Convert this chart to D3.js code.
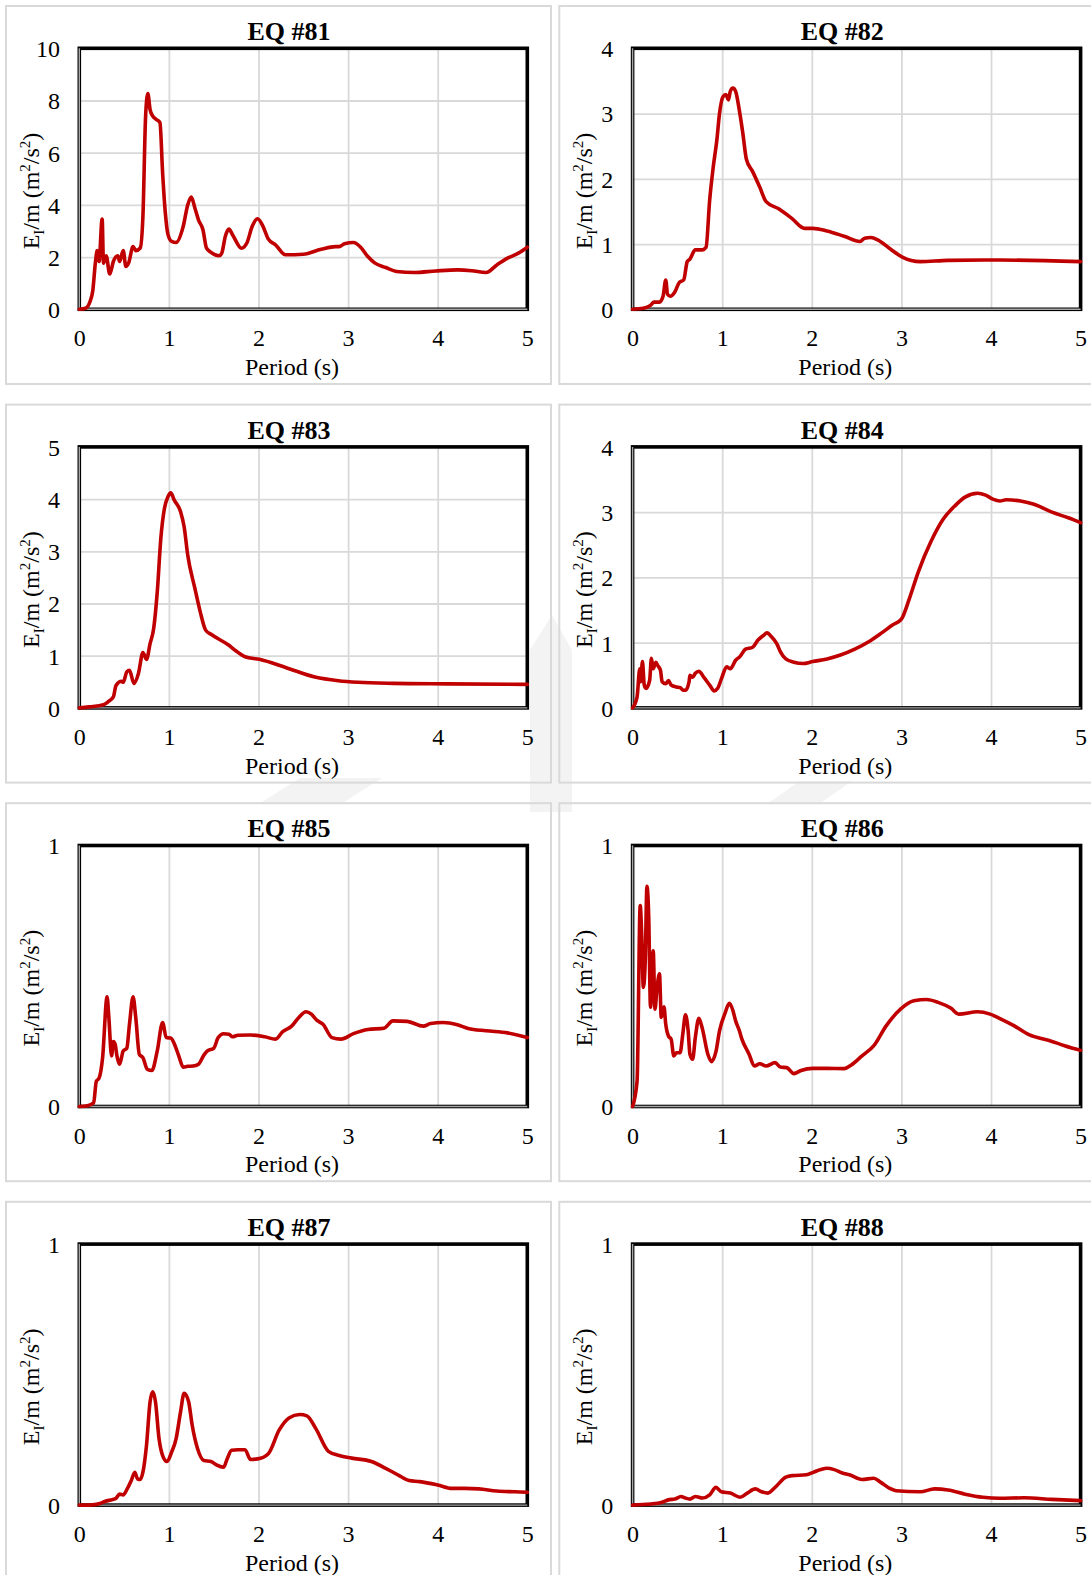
<!DOCTYPE html>
<html>
<head>
<meta charset="utf-8">
<script src="https://cdn.jsdelivr.net/npm/d3@7"></script>
<style>
  html, body { margin: 0; padding: 0; background: #ffffff; }
  svg { display: block; }
  text { font-family: "Liberation Serif", "Times New Roman", serif; fill: #000; }
</style>
</head>
<body>
<svg id="chart" width="1091" height="1575"></svg>
<script>
// Input energy spectra, E_I/m (m^2/s^2) versus period (s), one array of [T, E] pairs per record
const periodTicks = [0, 1, 2, 3, 4, 5];
const panelTitles = ["EQ #81", "EQ #82", "EQ #83", "EQ #84", "EQ #85", "EQ #86", "EQ #87", "EQ #88"];
const yMaxima = [10, 4, 5, 4, 1, 1, 1, 1];
const yTickSteps = [2, 1, 1, 1, 1, 1, 1, 1];

const eq81 = [[0,0],[0.07,0.04],[0.12,0.3],[0.15,0.7],[0.18,1.8],[0.2,2.25],[0.22,1.83],[0.255,3.46],[0.27,1.77],
  [0.3,2.05],[0.34,1.35],[0.38,1.83],[0.43,2.05],[0.45,1.83],[0.49,2.25],[0.52,1.64],[0.55,1.77],[0.6,2.4],
  [0.63,2.25],[0.68,2.35],[0.71,3.56],[0.74,7.4],[0.765,8.27],[0.79,7.65],[0.82,7.4],[0.85,7.3],[0.87,7.25],
  [0.9,7.15],[0.93,5.22],[0.96,3.7],[0.99,2.86],[1.03,2.6],[1.08,2.56],[1.16,3.18],[1.21,4.0],[1.25,4.3],
  [1.29,3.88],[1.33,3.43],[1.38,3.05],[1.42,2.34],[1.47,2.18],[1.56,2.05],[1.59,2.15],[1.63,2.8],[1.67,3.07],
  [1.71,2.86],[1.81,2.34],[1.87,2.54],[1.93,3.18],[1.99,3.47],[2.05,3.18],[2.11,2.69],[2.19,2.47],[2.3,2.09],
  [2.5,2.11],[2.7,2.3],[2.86,2.4],[2.9,2.4],[2.96,2.51],[3.06,2.56],[3.14,2.38],[3.22,2.02],[3.3,1.77],
  [3.42,1.6],[3.54,1.45],[3.74,1.41],[3.98,1.47],[4.22,1.51],[4.38,1.48],[4.54,1.41],[4.66,1.7],[4.78,1.96],
  [4.9,2.15],[5.0,2.38]];

const eq82 = [[0,0],[0.12,0.015],[0.2,0.06],[0.24,0.11],[0.3,0.11],[0.34,0.2],[0.37,0.45],[0.39,0.23],[0.42,0.2],
  [0.47,0.26],[0.52,0.41],[0.57,0.45],[0.61,0.73],[0.64,0.77],[0.7,0.91],[0.78,0.91],[0.82,0.95],[0.86,1.67],
  [0.9,2.18],[0.94,2.59],[0.97,3.0],[1.01,3.26],[1.04,3.29],[1.07,3.21],[1.09,3.34],[1.12,3.39],[1.15,3.34],
  [1.19,3.06],[1.23,2.7],[1.27,2.3],[1.34,2.11],[1.42,1.87],[1.49,1.65],[1.63,1.54],[1.78,1.39],[1.92,1.24],
  [2.01,1.24],[2.17,1.2],[2.36,1.12],[2.54,1.04],[2.59,1.09],[2.66,1.1],[2.74,1.06],[2.88,0.92],[3.01,0.8],
  [3.21,0.73],[3.52,0.75],[4.1,0.755],[5.0,0.73]];

const eq83 = [[0,0],[0.11,0.02],[0.27,0.06],[0.33,0.13],[0.38,0.21],[0.41,0.43],[0.47,0.51],[0.49,0.49],
  [0.53,0.69],[0.56,0.72],[0.61,0.47],[0.66,0.66],[0.71,1.06],[0.75,0.93],[0.79,1.23],[0.83,1.52],[0.87,2.22],
  [0.91,3.25],[0.95,3.82],[0.99,4.05],[1.02,4.12],[1.06,3.98],[1.13,3.76],[1.17,3.47],[1.21,2.93],[1.29,2.29],
  [1.35,1.84],[1.41,1.49],[1.47,1.41],[1.67,1.2],[1.75,1.09],[1.85,0.98],[2.01,0.93],[2.31,0.77],[2.63,0.59],
  [2.89,0.52],[3.11,0.49],[3.5,0.47],[4.1,0.46],[5.0,0.45]];

const eq84 = [[0,0],[0.05,0.17],[0.08,0.6],[0.09,0.4],[0.11,0.71],[0.13,0.35],[0.15,0.3],[0.19,0.42],[0.21,0.76],
  [0.23,0.6],[0.26,0.7],[0.28,0.65],[0.31,0.58],[0.33,0.4],[0.37,0.37],[0.4,0.42],[0.43,0.35],[0.49,0.32],
  [0.53,0.31],[0.57,0.27],[0.59,0.27],[0.63,0.4],[0.64,0.5],[0.67,0.47],[0.7,0.53],[0.74,0.56],[0.8,0.46],
  [0.86,0.35],[0.91,0.26],[0.95,0.3],[0.99,0.44],[1.05,0.63],[1.09,0.6],[1.15,0.73],[1.2,0.79],[1.26,0.9],
  [1.34,0.93],[1.4,1.04],[1.46,1.11],[1.5,1.15],[1.55,1.09],[1.61,0.98],[1.65,0.86],[1.71,0.75],[1.8,0.7],
  [1.9,0.68],[2.01,0.71],[2.17,0.75],[2.32,0.81],[2.48,0.9],[2.63,1.01],[2.78,1.15],[2.9,1.27],[3.0,1.36],
  [3.09,1.68],[3.19,2.09],[3.33,2.55],[3.46,2.88],[3.6,3.1],[3.71,3.23],[3.85,3.29],[3.94,3.26],[4.02,3.2],
  [4.1,3.17],[4.17,3.19],[4.33,3.17],[4.48,3.12],[4.68,3.0],[4.87,2.91],[5.0,2.84]];

const eq85 = [[0,0],[0.09,0.003],[0.16,0.014],[0.19,0.097],[0.22,0.108],[0.26,0.187],[0.31,0.42],[0.33,0.34],
  [0.36,0.194],[0.38,0.249],[0.4,0.238],[0.42,0.194],[0.45,0.162],[0.49,0.213],[0.53,0.223],[0.56,0.315],
  [0.6,0.42],[0.63,0.341],[0.67,0.2],[0.71,0.187],[0.76,0.142],[0.81,0.138],[0.87,0.213],[0.93,0.322],
  [0.97,0.264],[1.02,0.262],[1.07,0.232],[1.11,0.194],[1.16,0.151],[1.21,0.154],[1.27,0.155],[1.33,0.162],
  [1.39,0.197],[1.43,0.213],[1.5,0.223],[1.55,0.264],[1.61,0.279],[1.67,0.277],[1.71,0.267],[1.77,0.273],
  [1.91,0.274],[2.07,0.267],[2.19,0.258],[2.27,0.287],[2.37,0.308],[2.45,0.341],[2.53,0.363],[2.59,0.354],
  [2.65,0.331],[2.72,0.315],[2.82,0.264],[2.92,0.258],[3.06,0.279],[3.22,0.295],[3.4,0.3],[3.5,0.328],
  [3.66,0.326],[3.84,0.308],[3.92,0.318],[4.06,0.322],[4.22,0.313],[4.34,0.299],[4.54,0.29],[4.78,0.282],
  [5.0,0.264]];

const eq86 = [[0,0],[0.05,0.097],[0.085,0.77],[0.1,0.675],[0.12,0.456],[0.14,0.546],[0.16,0.844],[0.18,0.726],
  [0.2,0.38],[0.23,0.597],[0.25,0.373],[0.27,0.444],[0.3,0.508],[0.32,0.341],[0.35,0.382],[0.37,0.315],
  [0.4,0.27],[0.43,0.258],[0.46,0.194],[0.49,0.206],[0.53,0.206],[0.56,0.277],[0.59,0.351],[0.62,0.29],
  [0.64,0.2],[0.67,0.181],[0.7,0.264],[0.74,0.338],[0.78,0.296],[0.84,0.2],[0.88,0.172],[0.93,0.21],
  [0.97,0.29],[1.03,0.356],[1.08,0.395],[1.12,0.367],[1.15,0.328],[1.19,0.292],[1.22,0.258],[1.3,0.2],
  [1.36,0.155],[1.42,0.164],[1.49,0.155],[1.59,0.168],[1.65,0.151],[1.72,0.149],[1.8,0.126],[1.88,0.138],
  [2.01,0.146],[2.17,0.146],[2.36,0.145],[2.44,0.159],[2.56,0.194],[2.69,0.232],[2.83,0.309],[2.99,0.373],
  [3.14,0.405],[3.28,0.41],[3.41,0.399],[3.55,0.377],[3.64,0.354],[3.85,0.363],[3.99,0.354],[4.1,0.337],
  [4.26,0.309],[4.43,0.274],[4.64,0.254],[4.83,0.232],[5.0,0.215]];

const eq87 = [[0,0],[0.15,0.001],[0.23,0.006],[0.29,0.015],[0.37,0.021],[0.41,0.026],[0.45,0.042],[0.49,0.039],
  [0.53,0.059],[0.58,0.094],[0.62,0.126],[0.65,0.1],[0.68,0.098],[0.71,0.126],[0.75,0.229],[0.79,0.396],
  [0.82,0.434],[0.85,0.396],[0.89,0.254],[0.93,0.19],[0.98,0.167],[1.03,0.203],[1.08,0.254],[1.13,0.357],
  [1.17,0.428],[1.22,0.396],[1.26,0.306],[1.32,0.216],[1.39,0.171],[1.47,0.167],[1.53,0.154],[1.61,0.145],
  [1.65,0.177],[1.7,0.21],[1.77,0.212],[1.85,0.212],[1.91,0.175],[1.99,0.177],[2.11,0.197],[2.23,0.287],
  [2.34,0.334],[2.46,0.347],[2.54,0.342],[2.64,0.293],[2.78,0.206],[2.9,0.19],[3.04,0.18],[3.26,0.167],
  [3.42,0.141],[3.58,0.111],[3.68,0.094],[3.8,0.09],[4.0,0.077],[4.16,0.064],[4.3,0.064],[4.46,0.062],
  [4.66,0.054],[4.86,0.051],[5.0,0.049]];

const eq88 = [[0,0],[0.2,0.004],[0.32,0.01],[0.41,0.021],[0.47,0.023],[0.54,0.033],[0.59,0.027],[0.64,0.023],
  [0.7,0.033],[0.78,0.027],[0.86,0.039],[0.93,0.068],[0.99,0.051],[1.09,0.046],[1.2,0.03],[1.28,0.046],
  [1.37,0.062],[1.44,0.051],[1.51,0.046],[1.59,0.068],[1.71,0.107],[1.78,0.113],[1.94,0.116],[2.02,0.126],
  [2.1,0.136],[2.17,0.141],[2.25,0.136],[2.34,0.123],[2.42,0.116],[2.56,0.098],[2.69,0.103],[2.77,0.087],
  [2.87,0.064],[2.94,0.055],[3.21,0.051],[3.37,0.062],[3.52,0.058],[3.71,0.042],[3.91,0.03],[4.1,0.026],
  [4.37,0.028],[4.68,0.022],[5.0,0.017]];

const records = [eq81, eq82, eq83, eq84, eq85, eq86, eq87, eq88];

// ---- layout ----
const colOffsets = [0, 553.3];
const rowOffsets = [0, 398.6, 797.2, 1195.8];
const frame = { x: 6, y: 6, w: 545, h: 378 };
const plot = { left: 79.3, right: 527.3, top: 48.3, bottom: 309.3 };
const lineColor = "#c00000";
const gridColor = "#d9d9d9";
const serif = '"Liberation Serif", "Times New Roman", serif';

const svg = d3.select("#chart");

// faint background watermark bands
const wm = svg.append("g").attr("fill", "#f3f3f3");
[
  [[262, 802], [300, 778], [382, 778], [344, 802]],
  [[770, 802], [800, 781], [852, 781], [822, 802]],
  [[530, 812], [530, 650], [552, 615], [572, 650], [572, 812]]
].forEach(pts => wm.append("polygon").attr("points", pts.map(p => p.join(",")).join(" ")));

records.forEach((data, i) => {
  const col = i % 2, row = Math.floor(i / 2);
  const g = svg.append("g")
    .attr("transform", `translate(${colOffsets[col]},${rowOffsets[row]})`);

  // chart area border
  g.append("rect")
    .attr("x", frame.x).attr("y", frame.y)
    .attr("width", frame.w).attr("height", frame.h)
    .attr("fill", "none").attr("stroke", gridColor).attr("stroke-width", 2);

  const x = d3.scaleLinear().domain([0, 5]).range([plot.left, plot.right]);
  const y = d3.scaleLinear().domain([0, yMaxima[i]]).range([plot.bottom, plot.top]);
  const yTicks = d3.range(0, yMaxima[i] + 1e-9, yTickSteps[i]);

  // plot area background
  g.append("rect")
    .attr("x", plot.left).attr("y", plot.top)
    .attr("width", plot.right - plot.left).attr("height", plot.bottom - plot.top)
    .attr("fill", "#fff");

  // gridlines
  const gx = g.append("g")
    .attr("transform", `translate(0,${plot.bottom})`)
    .call(d3.axisBottom(x).tickValues(periodTicks).tickSize(-(plot.bottom - plot.top)).tickFormat(""));
  const gy = g.append("g")
    .attr("transform", `translate(${plot.left},0)`)
    .call(d3.axisLeft(y).tickValues(yTicks).tickSize(-(plot.right - plot.left)).tickFormat(""));
  [gx, gy].forEach(a => {
    a.select(".domain").remove();
    a.selectAll("line").attr("stroke", gridColor).attr("stroke-width", 1.8);
  });

  // tick labels
  const lx = g.append("g")
    .attr("transform", `translate(0,${plot.bottom + 28.7})`)
    .call(d3.axisBottom(x).tickValues(periodTicks).tickSize(0).tickPadding(0).tickFormat(d3.format("d")));
  lx.select(".domain").remove();
  lx.selectAll("text").attr("font-size", 24).attr("dy", "0.35em").attr("y", 0)
    .style("font-family", serif);

  const ly = g.append("g")
    .attr("transform", `translate(${plot.left - 19.3},0)`)
    .call(d3.axisLeft(y).tickValues(yTicks).tickSize(0).tickPadding(0).tickFormat(d3.format("d")));
  ly.select(".domain").remove();
  ly.selectAll("text").attr("font-size", 24).attr("x", 0).attr("dy", "0.35em")
    .style("font-family", serif);

  // plot border: heavy black frame with light axis lines along left and bottom
  g.append("rect")
    .attr("x", plot.left).attr("y", plot.top)
    .attr("width", plot.right - plot.left).attr("height", plot.bottom - plot.top)
    .attr("fill", "none").attr("stroke", "#000").attr("stroke-width", 3.6);
  g.append("path")
    .attr("d", `M${plot.left},${plot.top}V${plot.bottom}H${plot.right}`)
    .attr("fill", "none").attr("stroke", "#a6a6a6").attr("stroke-width", 1.4);

  // spectrum curve
  const line = d3.line()
    .x(d => x(d[0])).y(d => y(d[1]))
    .curve(d3.curveMonotoneX);
  g.append("path")
    .datum(data)
    .attr("d", line)
    .attr("fill", "none")
    .attr("stroke", lineColor)
    .attr("stroke-width", 3.6)
    .attr("stroke-linejoin", "round")
    .attr("stroke-linecap", "round");

  // panel title
  g.append("text")
    .attr("x", 289).attr("y", 40)
    .attr("text-anchor", "middle")
    .attr("font-size", 26).attr("font-weight", "bold")
    .text(panelTitles[i]);

  // x axis title
  g.append("text")
    .attr("x", 292).attr("y", plot.bottom + 57.4)
    .attr("dy", "0.35em")
    .attr("text-anchor", "middle")
    .attr("font-size", 24)
    .text("Period (s)");

  // y axis title: E_I/m (m^2/s^2)
  const yt = g.append("text")
    .attr("transform", `translate(39,191) rotate(-90)`)
    .attr("text-anchor", "middle")
    .attr("font-size", 24);
  yt.append("tspan").text("E");
  yt.append("tspan").attr("font-size", 15).attr("dy", 5).text("I");
  yt.append("tspan").attr("dy", -5).text("/m (m");
  yt.append("tspan").attr("font-size", 15).attr("dy", -9).text("2");
  yt.append("tspan").attr("dy", 9).text("/s");
  yt.append("tspan").attr("font-size", 15).attr("dy", -9).text("2");
  yt.append("tspan").attr("dy", 9).text(")");
});
</script>
</body>
</html>
